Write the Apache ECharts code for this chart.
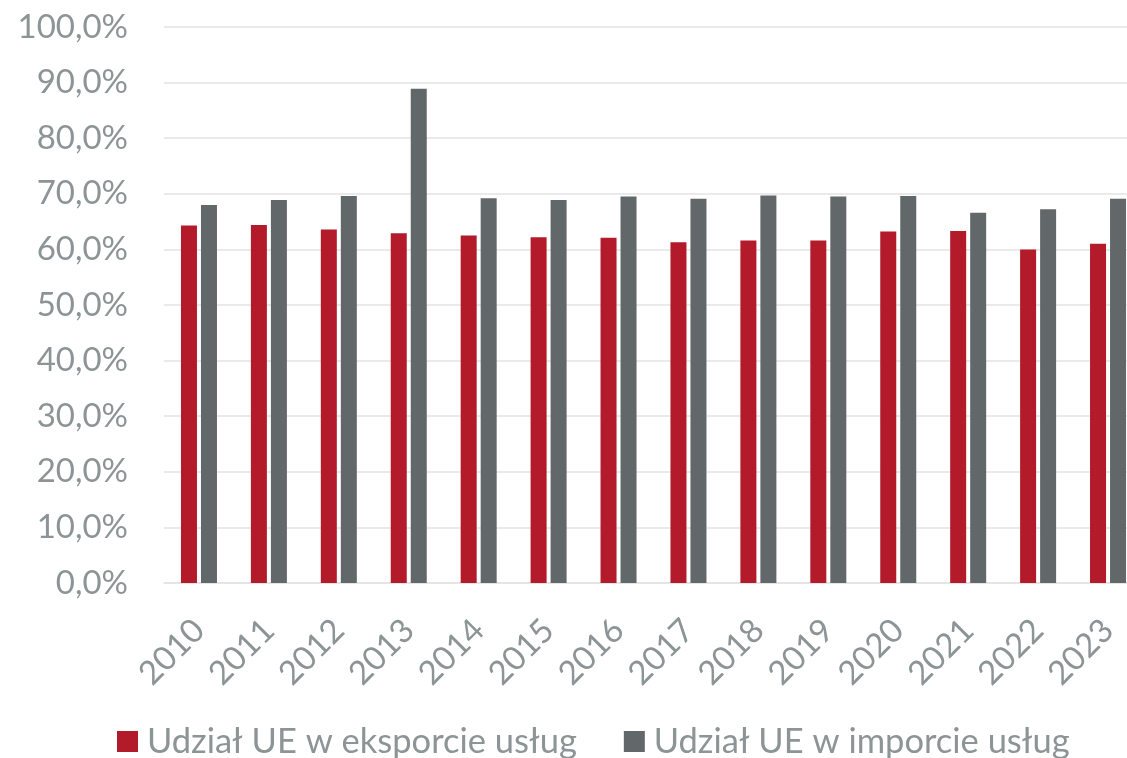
<!DOCTYPE html>
<html>
<head>
<meta charset="utf-8">
<script src="https://cdn.jsdelivr.net/npm/echarts@6/dist/echarts.min.js"></script>
<style>
html,body{margin:0;padding:0;background:#fff;overflow:hidden;width:1127px;height:758px;}
#chart{width:1150px;height:758px;}
</style>
</head>
<body>
<div id="chart"></div>
<script>
const categories = ['2010','2011','2012','2013','2014','2015','2016','2017','2018','2019','2020','2021','2022','2023'];
const exportShare = [64.3, 64.4, 63.6, 62.9, 62.5, 62.2, 62.1, 61.3, 61.6, 61.6, 63.2, 63.3, 60.0, 61.0];
const importShare = [68.0, 68.9, 69.6, 88.9, 69.2, 68.9, 69.5, 69.1, 69.7, 69.5, 69.6, 66.6, 67.2, 69.1];
const seriesNames = ['Udział UE w eksporcie usług', 'Udział UE w imporcie usług'];

const FONT = 'Lato';
const LABEL = '#8d9496';
const chart = echarts.init(document.getElementById('chart'), null, {renderer:'canvas'});
chart.setOption({
  animation: false,
  backgroundColor: '#ffffff',
  textStyle: {fontFamily: FONT},
  grid: {left: 164, top: 27, width: 979, height: 556, containLabel: false},
  legend: {
    left: 112, top: 719,
    itemWidth: 21, itemHeight: 21, itemGap: 47,
    icon: 'rect',
    textStyle: {color: LABEL, fontSize: 34.5, fontFamily: FONT, padding: [0, 0, 0, 4]},
    data: seriesNames
  },
  xAxis: {
    type: 'category',
    data: categories,
    axisTick: {show: false},
    axisLine: {lineStyle: {color: '#e3e3e3', width: 1.5}},
    axisLabel: {rotate: 45, color: LABEL, fontSize: 33, fontFamily: FONT, margin: 42, interval: 0}
  },
  yAxis: {
    type: 'value',
    min: 0, max: 100, interval: 10,
    axisLine: {show: false},
    axisTick: {show: false},
    splitLine: {lineStyle: {color: '#e3e3e3', width: 1.5}},
    axisLabel: {
      color: LABEL, fontSize: 33, fontFamily: FONT, margin: 36,
      formatter: v => v.toFixed(1).replace('.', ',') + '%'
    }
  },
  series: [
    {name: seriesNames[0], type: 'bar', data: exportShare, barWidth: 16, barGap: '25%',
     itemStyle: {color: '#b31b2b'}},
    {name: seriesNames[1], type: 'bar', data: importShare, barWidth: 16,
     itemStyle: {color: '#626769'}}
  ]
});
</script>
</body>
</html>
